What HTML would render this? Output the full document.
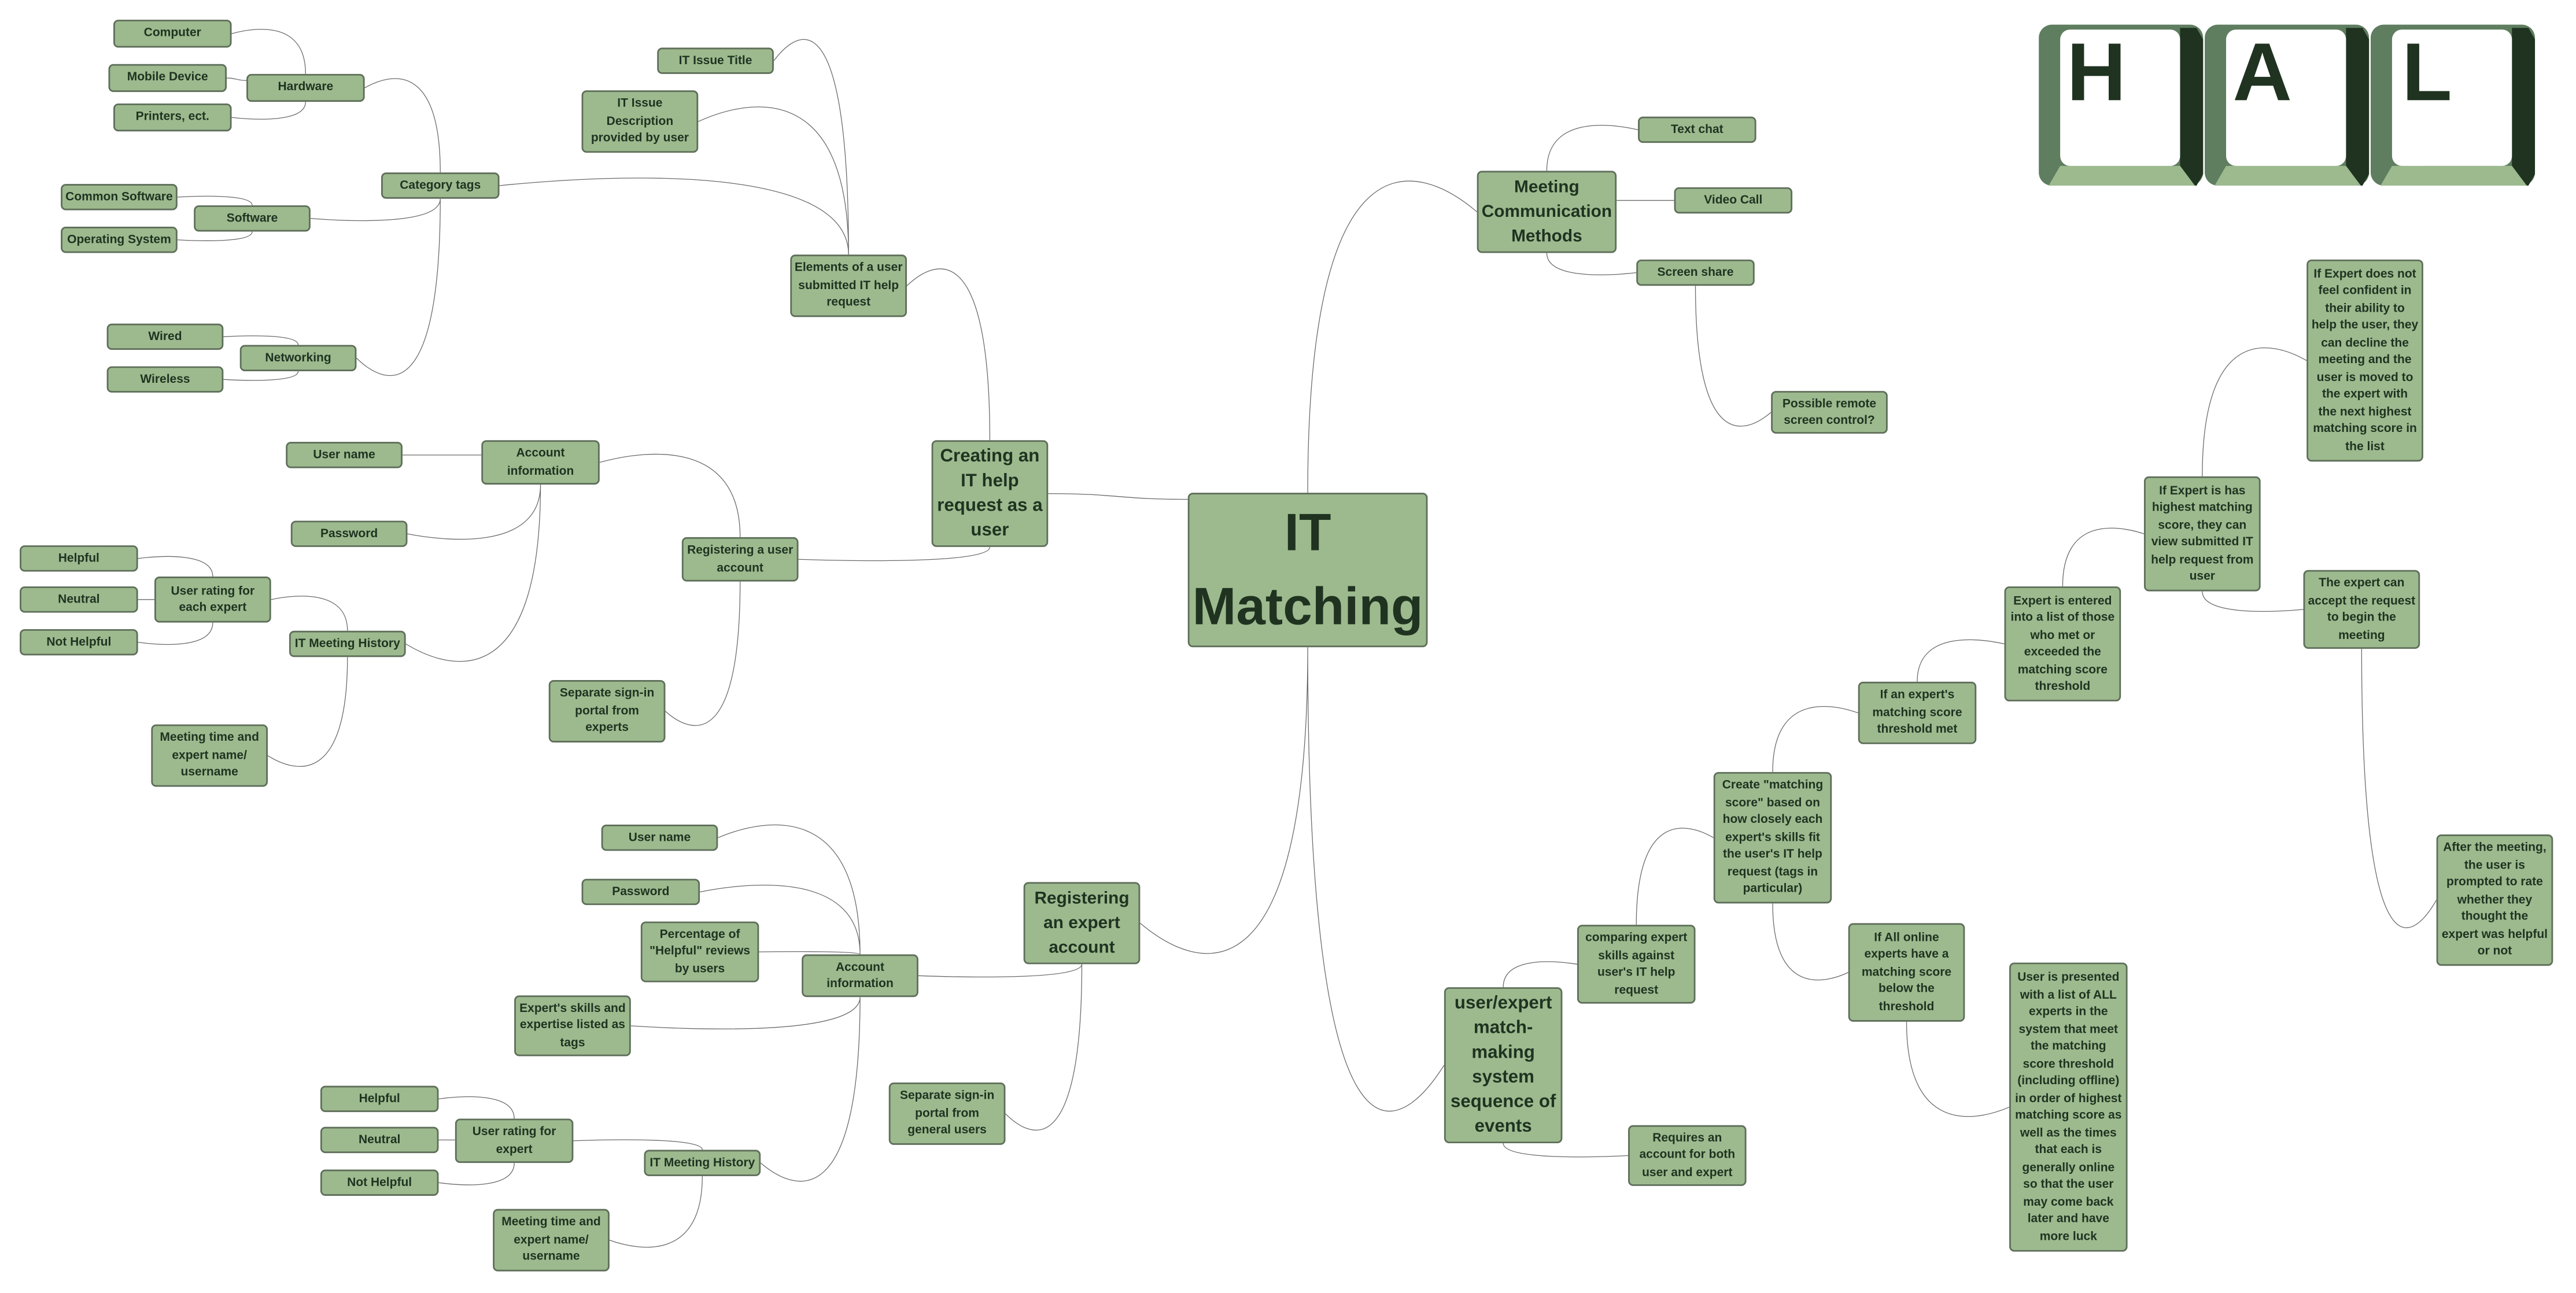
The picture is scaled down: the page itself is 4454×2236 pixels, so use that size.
<!DOCTYPE html>
<html><head><meta charset="utf-8">
<style>
html,body{margin:0;padding:0;background:#fff;width:4454px;height:2235px;overflow:hidden}
.c{position:absolute;left:0;top:0;width:1568px;height:787px;transform:scale(2.8406);transform-origin:0 0}
svg{position:absolute;left:0;top:0}
.n{position:absolute;background:#9dba8f;border:0.5px solid #5f6f5a;border-radius:3px;box-sizing:border-box;display:flex;align-items:center;justify-content:center;text-align:center;font:bold 7.4px/10.5px "Liberation Sans Narrow","Liberation Sans",sans-serif;color:#1f3320;white-space:nowrap}
.b{font-size:11px;line-height:15px}
.m{font-size:10.5px;line-height:15px}
.k{font-family:"Liberation Sans",sans-serif;font-weight:bold;font-size:50px;fill:#1f3320}
</style></head><body>
<div class="c">
<svg id="lines" width="1568" height="787" viewBox="0 0 1568 787">
<g id="hal">
<g transform="translate(1241,0)">
<rect x="0" y="15" width="100" height="98" rx="8" fill="#5f7d5f"/>
<polygon points="86,17 96,17 100,24 100,106 96,113 95,113 86,101" fill="#1f3320"/>
<polygon points="13,101 86,101 95,113 6,113" fill="#9dba8f"/>
<rect x="13" y="18" width="73" height="83" rx="6" fill="#fff"/>
<text x="17" y="61" class="k">H</text>
</g>
<g transform="translate(1342,0)">
<rect x="0" y="15" width="100" height="98" rx="8" fill="#5f7d5f"/>
<polygon points="86,17 96,17 100,24 100,106 96,113 95,113 86,101" fill="#1f3320"/>
<polygon points="13,101 86,101 95,113 6,113" fill="#9dba8f"/>
<rect x="13" y="18" width="73" height="83" rx="6" fill="#fff"/>
<text x="17" y="61" class="k">A</text>
</g>
<g transform="translate(1443,0)">
<rect x="0" y="15" width="100" height="98" rx="8" fill="#5f7d5f"/>
<polygon points="86,17 96,17 100,24 100,106 96,113 95,113 86,101" fill="#1f3320"/>
<polygon points="13,101 86,101 95,113 6,113" fill="#9dba8f"/>
<rect x="13" y="18" width="73" height="83" rx="6" fill="#fff"/>
<text x="19" y="61" class="k">L</text>
</g>
</g>
</svg>

<div class="n" id="comp" style="left:69px;top:12px;width:72px;height:17px">Computer</div>
<div class="n" id="mob" style="left:66px;top:39px;width:72px;height:17px">Mobile Device</div>
<div class="n" id="print" style="left:69px;top:63px;width:72px;height:17px">Printers, ect.</div>
<div class="n" id="hw" style="left:150px;top:45px;width:72px;height:17px">Hardware</div>
<div class="n" id="cat" style="left:232px;top:105px;width:72px;height:16px">Category tags</div>
<div class="n" id="csw" style="left:37px;top:112px;width:71px;height:16px">Common Software</div>
<div class="n" id="sw" style="left:118px;top:125px;width:71px;height:16px">Software</div>
<div class="n" id="os" style="left:37px;top:138px;width:71px;height:16px">Operating System</div>
<div class="n" id="wired" style="left:65px;top:197px;width:71px;height:16px">Wired</div>
<div class="n" id="net" style="left:146px;top:210px;width:71px;height:16px">Networking</div>
<div class="n" id="wless" style="left:65px;top:223px;width:71px;height:16px">Wireless</div>
<div class="n" id="title" style="left:400px;top:29px;width:71px;height:16px">IT Issue Title</div>
<div class="n" id="desc" style="left:354px;top:55px;width:71px;height:38px">IT Issue<br>Description<br>provided by user</div>
<div class="n" id="elem" style="left:481px;top:155px;width:71px;height:38px">Elements of a user<br>submitted IT help<br>request</div>
<div class="n b" id="creating" style="left:567px;top:268px;width:71px;height:65px">Creating an<br>IT help<br>request as a<br>user</div>
<div class="n" id="m" style="left:723px;top:300px;width:146px;height:94px;font-size:32px;line-height:45px">IT<br>Matching</div>
<div class="n" id="un1" style="left:174px;top:269px;width:71px;height:16px">User name</div>
<div class="n" id="acc1" style="left:293px;top:268px;width:72px;height:27px">Account<br>information</div>
<div class="n" id="pw1" style="left:177px;top:317px;width:71px;height:16px">Password</div>
<div class="n" id="reguser" style="left:415px;top:327px;width:71px;height:27px">Registering a user<br>account</div>
<div class="n" id="h1" style="left:12px;top:332px;width:72px;height:16px">Helpful</div>
<div class="n" id="n1" style="left:12px;top:357px;width:72px;height:16px">Neutral</div>
<div class="n" id="nh1" style="left:12px;top:383px;width:72px;height:16px">Not Helpful</div>
<div class="n" id="rate1" style="left:94px;top:351px;width:71px;height:28px">User rating for<br>each expert</div>
<div class="n" id="hist1" style="left:176px;top:384px;width:71px;height:16px">IT Meeting History</div>
<div class="n" id="mt1" style="left:92px;top:441px;width:71px;height:38px">Meeting time and<br>expert name/<br>username</div>
<div class="n" id="sep1" style="left:334px;top:414px;width:71px;height:38px">Separate sign-in<br>portal from<br>experts</div>

<div class="n" id="un2" style="left:366px;top:502px;width:71px;height:16px">User name</div>
<div class="n" id="pw2" style="left:354px;top:535px;width:72px;height:16px">Password</div>
<div class="n" id="pct" style="left:390px;top:561px;width:72px;height:37px">Percentage of<br>"Helpful" reviews<br>by users</div>
<div class="n" id="acc2" style="left:488px;top:581px;width:71px;height:26px">Account<br>information</div>
<div class="n m" id="regexp" style="left:623px;top:537px;width:71px;height:50px">Registering<br>an expert<br>account</div>
<div class="n" id="skills" style="left:313px;top:606px;width:71px;height:37px">Expert's skills and<br>expertise listed as<br>tags</div>
<div class="n" id="h2" style="left:195px;top:661px;width:72px;height:16px">Helpful</div>
<div class="n" id="n2" style="left:195px;top:686px;width:72px;height:16px">Neutral</div>
<div class="n" id="nh2" style="left:195px;top:712px;width:72px;height:16px">Not Helpful</div>
<div class="n" id="rate2" style="left:277px;top:681px;width:72px;height:27px">User rating for<br>expert</div>
<div class="n" id="hist2" style="left:392px;top:700px;width:71px;height:16px">IT Meeting History</div>
<div class="n" id="mt2" style="left:300px;top:736px;width:71px;height:38px">Meeting time and<br>expert name/<br>username</div>
<div class="n" id="sep2" style="left:541px;top:659px;width:71px;height:38px">Separate sign-in<br>portal from<br>general users</div>

<div class="n m" id="meet" style="left:899px;top:104px;width:85px;height:50px">Meeting<br>Communication<br>Methods</div>
<div class="n" id="text" style="left:997px;top:71px;width:72px;height:16px">Text chat</div>
<div class="n" id="video" style="left:1019px;top:114px;width:72px;height:16px">Video Call</div>
<div class="n" id="screen" style="left:996px;top:158px;width:72px;height:16px">Screen share</div>
<div class="n" id="remote" style="left:1078px;top:238px;width:71px;height:26px">Possible remote<br>screen control?</div>

<div class="n" id="decline" style="left:1404px;top:158px;width:71px;height:123px">If Expert does not<br>feel confident in<br>their ability to<br>help the user, they<br>can decline the<br>meeting and the<br>user is moved to<br>the expert with<br>the next highest<br>matching score in<br>the list</div>
<div class="n" id="highest" style="left:1305px;top:290px;width:71px;height:70px">If Expert is has<br>highest matching<br>score, they can<br>view submitted IT<br>help request from<br>user</div>
<div class="n" id="accept" style="left:1402px;top:347px;width:71px;height:48px">The expert can<br>accept the request<br>to begin the<br>meeting</div>
<div class="n" id="entered" style="left:1220px;top:357px;width:71px;height:70px">Expert is entered<br>into a list of those<br>who met or<br>exceeded the<br>matching score<br>threshold</div>
<div class="n" id="thr" style="left:1131px;top:415px;width:72px;height:38px">If an expert's<br>matching score<br>threshold met</div>
<div class="n" id="create" style="left:1043px;top:470px;width:72px;height:80px">Create "matching<br>score" based on<br>how closely each<br>expert's skills fit<br>the user's IT help<br>request (tags in<br>particular)</div>
<div class="n" id="allon" style="left:1125px;top:562px;width:71px;height:60px">If All online<br>experts have a<br>matching score<br>below the<br>threshold</div>
<div class="n" id="cmp" style="left:960px;top:563px;width:72px;height:48px">comparing expert<br>skills against<br>user's IT help<br>request</div>
<div class="n b" id="ue" style="left:879px;top:601px;width:72px;height:95px">user/expert<br>match-<br>making<br>system<br>sequence of<br>events</div>
<div class="n" id="req" style="left:991px;top:685px;width:72px;height:37px">Requires an<br>account for both<br>user and expert</div>
<div class="n" id="presented" style="left:1223px;top:586px;width:72px;height:176px">User is presented<br>with a list of ALL<br>experts in the<br>system that meet<br>the matching<br>score threshold<br>(including offline)<br>in order of highest<br>matching score as<br>well as the times<br>that each is<br>generally online<br>so that the user<br>may come back<br>later and have<br>more luck</div>
<div class="n" id="after" style="left:1483px;top:508px;width:71px;height:80px">After the meeting,<br>the user is<br>prompted to rate<br>whether they<br>thought the<br>expert was helpful<br>or not</div>
</div>
<script>
var E=[["m","creating"],["m","meet"],["m","regexp"],["m","ue"],
["creating","elem"],["creating","reguser"],["elem","title"],["elem","desc"],["elem","cat"],
["cat","hw"],["cat","sw"],["cat","net"],["hw","comp"],["hw","mob"],["hw","print"],
["sw","csw"],["sw","os"],["net","wired"],["net","wless"],
["reguser","acc1"],["reguser","sep1"],["acc1","un1"],["acc1","pw1"],["acc1","hist1"],
["hist1","rate1"],["hist1","mt1"],["rate1","h1"],["rate1","n1"],["rate1","nh1"],
["regexp","acc2"],["regexp","sep2"],["acc2","un2"],["acc2","pw2"],["acc2","pct"],["acc2","skills"],["acc2","hist2"],
["hist2","rate2"],["hist2","mt2"],["rate2","h2"],["rate2","n2"],["rate2","nh2"],
["meet","text"],["meet","video"],["meet","screen"],["screen","remote"],
["ue","cmp"],["ue","req"],["cmp","create"],["create","thr"],["create","allon"],
["thr","entered"],["entered","highest"],["highest","decline"],["highest","accept"],
["accept","after"],["allon","presented"]];
function R(id){var e=document.getElementById(id);return{x:e.offsetLeft,y:e.offsetTop,w:e.offsetWidth,h:e.offsetHeight};}
var svg=document.getElementById("lines"),ns="http://www.w3.org/2000/svg",d="";
E.forEach(function(p){var a=R(p[0]),b=R(p[1]);
var acx=a.x+a.w/2,acy=a.y+a.h/2,bcx=b.x+b.w/2,bcy=b.y+b.h/2;
var left=bcx<acx,px,py,vert=false;
if(Math.abs(bcy-acy)<=a.h/2+1){px=left?a.x:a.x+a.w;py=Math.min(Math.max(bcy,a.y+4),a.y+a.h-4);}
else{px=acx;py=bcy<acy?a.y:a.y+a.h;vert=true;}
var ex=left?b.x+b.w:b.x,ey=bcy;
if(vert){var dy=py-ey;
d+="M"+px+","+py+" C"+px+","+(ey-0.3*dy)+" "+(ex+0.35*(px-ex))+","+(ey-0.18*dy)+" "+ex+","+ey+" ";}
else{d+="M"+px+","+py+" C"+((px+ex)/2)+","+py+" "+((px+ex)/2)+","+ey+" "+ex+","+ey+" ";}});
var path=document.createElementNS(ns,"path");path.setAttribute("d",d);path.setAttribute("fill","none");
path.setAttribute("stroke","#6a6a6a");path.setAttribute("stroke-width","0.45");
svg.insertBefore(path,svg.firstChild);
</script>
</body></html>
